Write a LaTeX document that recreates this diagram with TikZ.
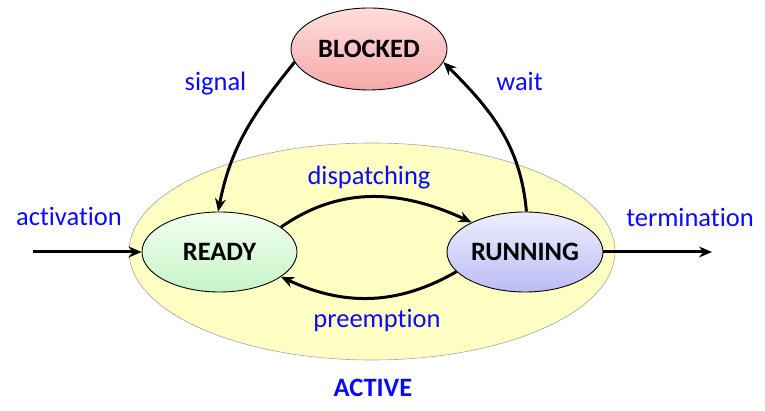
\documentclass[tikz,border=0pt]{standalone}
\usepackage{fontspec}
\setmainfont[Ligatures={NoCommon}]{Carlito}
\usetikzlibrary{arrows.meta,shapes.geometric}
\definecolor{lblue}{RGB}{10,10,250}
\definecolor{actfill}{RGB}{255,255,195}
\definecolor{blkT}{RGB}{255,222,222}
\definecolor{blkB}{RGB}{246,168,168}
\definecolor{rdyT}{RGB}{242,255,242}
\definecolor{rdyB}{RGB}{198,245,198}
\definecolor{runT}{RGB}{238,238,255}
\definecolor{runB}{RGB}{188,188,245}
\tikzset{
  state/.style={ellipse, draw=black, line width=0.9pt, inner sep=0pt,
    font=\fontsize{26.5}{30}\selectfont\bfseries},
  lbl/.style={text=lblue, inner sep=0pt, anchor=base,
    font=\fontsize{26.5}{30}\selectfont},
  conn/.style={line width=3pt, -{Stealth[length=13pt,width=11pt]}}
}
\begin{document}
\begin{tikzpicture}[x=1pt,y=1pt]
\useasboundingbox (0,0) rectangle (765,411);
% active region
\node[ellipse, draw=gray!70, line width=0.6pt, fill=actfill,
  minimum width=486pt, minimum height=217pt] (active) at (372,159.5) {};
% states
\node[state, top color=blkT, bottom color=blkB,
  minimum width=156pt, minimum height=82pt] (blocked) at (369,362) {BLOCKED};
\node[state, top color=rdyT, bottom color=rdyB,
  minimum width=155pt, minimum height=80pt] (ready) at (219.5,159) {READY};
\node[state, top color=runT, bottom color=runB,
  minimum width=156pt, minimum height=80pt] (running) at (525,159) {RUNNING};
% free ends
\coordinate (actin) at (33,159);
\coordinate (termout) at (712,159);
% labels
\node[lbl] (lsignal) at (215.5,320) {signal};
\node[lbl] (lwait) at (519.5,320) {wait};
\node[lbl] (ldisp) at (369,226) {dispatching};
\node[lbl] (lpre) at (377,83) {preemption};
\node[lbl] (lact) at (69,185) {activation};
\node[lbl] (lterm) at (690,184) {termination};
\node[lbl, font=\fontsize{26.5}{30}\selectfont\bfseries] (lactive) at (373,14) {ACTIVE};
% connectors
\draw[conn] (actin) -- (ready.west);
\draw[conn] (running.east) -- (termout);
\draw[conn] (blocked.190) to[out=231, in=79] (ready.92);
\draw[conn] (running.88) to[out=95, in=-45] (blocked.-10);
\draw[conn] (ready.22) to[out=35, in=155] (running.151);
\draw[conn] (running.196) to[out=-150, in=-25] (ready.-22);
\end{tikzpicture}
\end{document}
